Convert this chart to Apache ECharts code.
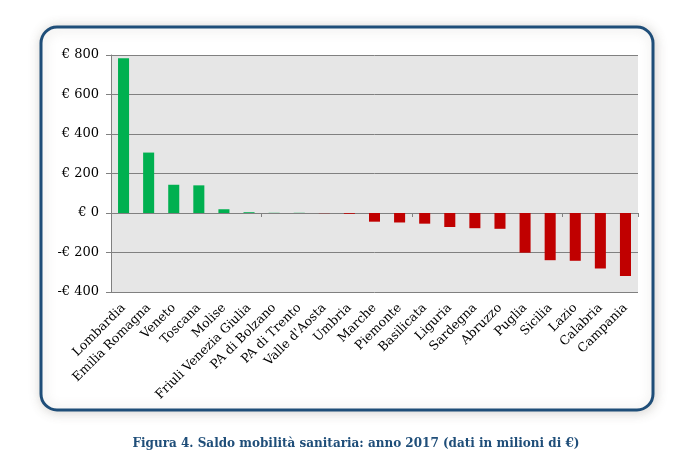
<!DOCTYPE html>
<html><head><meta charset="utf-8">
<script src="https://cdn.jsdelivr.net/npm/echarts@6/dist/echarts.min.js"></script>
<style>html,body{margin:0;padding:0;background:#fff}#c{width:685px;height:462px}</style>
</head><body><div id="c"></div>
<script>
const regions = ["Lombardia","Emilia Romagna","Veneto","Toscana","Molise","Friuli Venezia Giulia","PA di Bolzano","PA di Trento","Valle d'Aosta","Umbria","Marche","Piemonte","Basilicata","Liguria","Sardegna","Abruzzo","Puglia","Sicilia","Lazio","Calabria","Campania"];
const saldo = [784, 306, 143, 140, 19, 4, 1, 1, -1, -4, -44, -48, -54, -71, -77, -80, -201, -239, -242, -281, -319];
const yTicks = [-400, -200, 0, 200, 400, 600, 800];
const caption = "Figura 4. Saldo mobilità sanitaria: anno 2017 (dati in milioni di €)";

const GREEN = '#00B050', RED = '#C00000';
const chart = echarts.init(document.getElementById('c'));
const font = 'DejaVu Serif';
chart.setOption({
  backgroundColor: '#ffffff',
  animation: false,
  graphic: [
    {type:'rect', z:-10, shape:{x:41,y:27,width:612,height:383,r:16},
     style:{fill:'#ffffff', stroke:'#1F4E79', lineWidth:3, shadowBlur:12, shadowColor:'rgba(120,110,100,0.28)', shadowOffsetX:1, shadowOffsetY:1}},
    {type:'rect', z:-5, shape:{x:111,y:55,width:527,height:237}, style:{fill:'#E6E6E6'}},
    {type:'text', x:356, y:438, style:{text:caption, textAlign:'center', font:'bold 12px "DejaVu Serif"', fill:'#1F4E79'}}
  ],
  grid: {left:111, right:47, top:55, bottom:170, containLabel:false},
  xAxis: [
    {type:'category', data:regions, position:'bottom',
     axisLine:{show:false, onZero:false}, axisTick:{show:false},
     axisLabel:{rotate:45, interval:0, margin:14, fontFamily:font, fontSize:12.5, color:'#000'}},
    {type:'category', data:regions, position:'top',
     axisLine:{show:true, onZero:true, lineStyle:{color:'#808080', width:1}},
     axisTick:{show:true, inside:true, length:4, lineStyle:{color:'#808080'}},
     axisLabel:{show:false}}
  ],
  yAxis: {type:'value', min:-400, max:800, interval:200,
    axisLine:{show:true, lineStyle:{color:'#808080'}},
    axisTick:{show:true, length:5, lineStyle:{color:'#808080'}},
    splitLine:{lineStyle:{color:'#808080', width:1}},
    axisLabel:{fontFamily:font, fontSize:13, color:'#000', margin:12,
      formatter: v => (v<0 ? '-€ ' + (-v) : '€ ' + v)}},
  series: [{type:'bar', xAxisIndex:0, barWidth:'44%',
    data: saldo.map(v => ({value:v, itemStyle:{color: v>=0 ? GREEN : RED}}))}]
});
</script></body></html>
